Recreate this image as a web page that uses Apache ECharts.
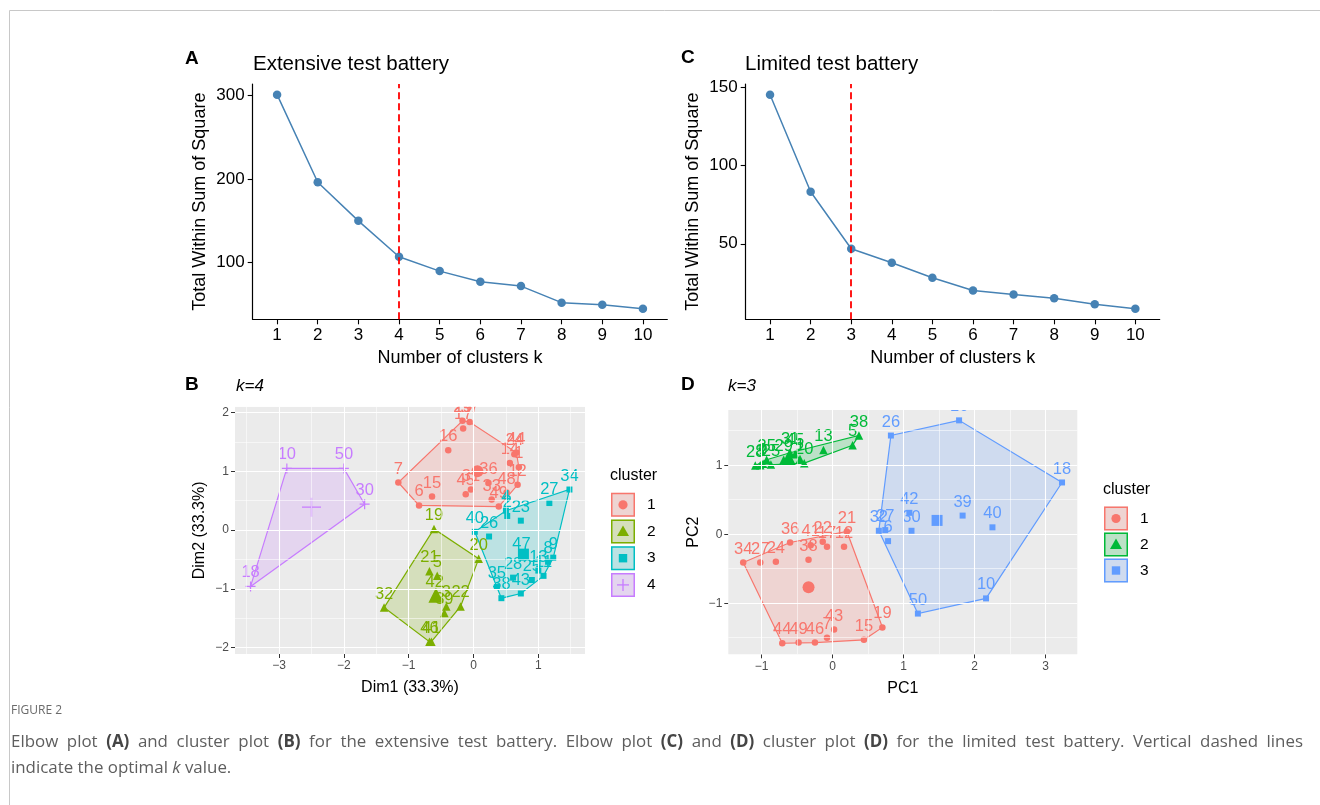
<!DOCTYPE html>
<html><head><meta charset="utf-8">
<script src="https://cdn.jsdelivr.net/npm/echarts@6/dist/echarts.min.js"></script>
<style>html,body{margin:0;padding:0;background:#fff}#c{width:1320px;height:805px}</style>
</head><body><div id="c"></div>
<script>
// ---------- Elbow plots ----------
const kValues = [1,2,3,4,5,6,7,8,9,10];
const wssExtensive = [301.2,195.9,149.6,106.5,89.2,76.5,71.2,51.3,48.9,44.1];
const wssLimited = [145.1,83.2,46.8,37.9,28.3,20.2,17.7,15.2,11.4,8.6];
const optimalKExtensive = 4;
const optimalKLimited = 3;
const elbowYTicksExtensive = [100,200,300];
const elbowYTicksLimited = [50,100,150];
const elbowYRangeExtensive = [31.3, 314.0];
const elbowYRangeLimited = [1.8, 152.0];
const elbowXRange = [0.4, 10.6];

// ---------- Cluster plot B (extensive, k=4) ----------
const clusterNamesB = ['1','2','3','4'];
const b1Labels = ['29','37','17','16','7','6','15','45','31','36','33','49','48','12','1','14','24','44'];
const b1X = [-0.17,-0.06,-0.16,-0.39,-1.16,-0.84,-0.64,-0.12,-0.04,0.23,0.28,0.39,0.51,0.68,0.70,0.56,0.63,0.66];
const b1Y = [1.86,1.84,1.73,1.36,0.81,0.42,0.57,0.61,0.69,0.80,0.52,0.40,0.64,0.77,1.07,1.14,1.29,1.32];
const b2Labels = ['19','20','21','5','32','22','3','39','42','46','41'];
const b2X = [-0.61,0.08,-0.68,-0.56,-1.38,-0.20,-0.42,-0.45,-0.60,-0.68,-0.65];
const b2Y = [0.02,-0.49,-0.70,-0.78,-1.32,-1.30,-1.30,-1.41,-1.12,-1.90,-1.90];
const b3Labels = ['40','26','4','2','23','27','34','47','9','8','13','11','25','28','35','38','43'];
const b3X = [0.02,0.24,0.50,0.52,0.73,1.17,1.48,0.74,1.23,1.15,1.00,1.08,0.90,0.61,0.36,0.43,0.73];
const b3Y = [-0.03,-0.11,0.33,0.24,0.16,0.46,0.69,-0.47,-0.47,-0.54,-0.69,-0.78,-0.85,-0.81,-0.97,-1.16,-1.08];
const b4Labels = ['10','50','30','18'];
const b4X = [-2.88,-2.00,-1.68,-3.44];
const b4Y = [1.05,1.05,0.44,-0.96];
const bCentroidX = [0.06,-0.58,0.77,-2.50];
const bCentroidY = [1.00,-1.11,-0.41,0.39];
const bXRange = [-3.68, 1.72];
const bYRange = [-2.11, 2.10];
const bTicksX = [-3,-2,-1,0,1];
const bTicksY = [-2,-1,0,1,2];
const bMinorX = [-3.5,-2.5,-1.5,-0.5,0.5,1.5];
const bMinorY = [-1.5,-0.5,0.5,1.5];

// ---------- Cluster plot D (limited, k=3) ----------
const clusterNamesD = ['1','2','3'];
const d1Labels = ['34','27','24','36','38','41','22','17','12','21','19','15','43','7','46','49','44'];
const d1X = [-1.26,-1.02,-0.80,-0.60,-0.34,-0.31,-0.14,-0.08,0.16,0.20,0.70,0.44,0.02,-0.08,-0.25,-0.48,-0.71];
const d1Y = [-0.41,-0.41,-0.40,-0.12,-0.37,-0.16,-0.11,-0.18,-0.18,0.04,-1.35,-1.53,-1.38,-1.50,-1.57,-1.57,-1.58];
const d2Labels = ['28','3','9','35','25','29','31','45','1','20','13','5','38'];
const d2X = [-1.09,-1.02,-0.98,-0.93,-0.87,-0.69,-0.60,-0.53,-0.46,-0.40,-0.13,0.28,0.37];
const d2Y = [0.995,1.00,1.02,1.08,1.01,1.08,1.18,1.16,1.09,1.03,1.22,1.29,1.43];
const d3Labels = ['26','16','18','10','50','32','27','6','42','30','39','40'];
const d3X = [0.82,1.78,3.23,2.16,1.20,0.65,0.74,0.78,1.08,1.11,1.83,2.25];
const d3Y = [1.43,1.65,0.75,-0.93,-1.15,0.05,0.06,-0.10,0.31,0.05,0.27,0.10];
const dCentroidX = [-0.34,-0.62,1.47];
const dCentroidY = [-0.77,1.10,0.20];
const dXRange = [-1.47, 3.445];
const dYRange = [-1.74, 1.80];
const dTicksX = [-1,0,1,2,3];
const dTicksY = [-1,0,1];
const dMinorX = [-0.5,0.5,1.5,2.5];
const dMinorY = [-1.5,-0.5,0.5,1.5];

// ---------- caption text ----------
const captionHeading = 'FIGURE 2';
const captionLine1 = 'Elbow plot (A) and cluster plot (B) for the extensive test battery. Elbow plot (C) and (D) cluster plot (D) for the limited test battery. Vertical dashed lines';
const captionLine2 = ['indicate the optimal ', 'k', ' value.'];

// ---------- styling ----------
const FONT = 'Liberation Sans';
const paletteB = ['#F8766D','#7CAE00','#00BFC4','#C77CFF'];
const paletteD = ['#F8766D','#00BA38','#619CFF'];
const shapesB = ['circle','triangle','rect','plus'];
const shapesD = ['circle','triangle','rect'];
const PLUS = 'path://M-1,-0.12L-0.12,-0.12L-0.12,-1L0.12,-1L0.12,-0.12L1,-0.12L1,0.12L0.12,0.12L0.12,1L-0.12,1L-0.12,0.12L-1,0.12Z';
const PLUS_BIG = 'path://M-1,-0.07L-0.07,-0.07L-0.07,-1L0.07,-1L0.07,-0.07L1,-0.07L1,0.07L0.07,0.07L0.07,1L-0.07,1L-0.07,0.07L-1,0.07Z';
const pointSize = {circle:6.5, triangle:8.5, rect:6, plus:10};
const centSize = {circle:12, triangle:15, rect:11, plus:19};

const grids = [
  {left:252.7, top:84, width:414.6, height:235.3},   // A
  {left:745.7, top:84, width:414.0, height:235.3},   // C
  {left:235, top:406.7, width:350, height:247.3},    // B
  {left:728.3, top:410, width:349, height:244.3}     // D
];

function rgba(hex, a){const n=parseInt(hex.slice(1),16);return 'rgba('+(n>>16)+','+((n>>8)&255)+','+(n&255)+','+a+')';}
const minus = v => String(v).replace('-', '\u2212');

function convexHull(pts){
  const p = pts.slice().sort((a,b)=>a[0]-b[0]||a[1]-b[1]);
  const cross=(o,a,b)=>(a[0]-o[0])*(b[1]-o[1])-(a[1]-o[1])*(b[0]-o[0]);
  const lower=[];for(const q of p){while(lower.length>=2&&cross(lower[lower.length-2],lower[lower.length-1],q)<=0)lower.pop();lower.push(q);}
  const upper=[];for(let i=p.length-1;i>=0;i--){const q=p[i];while(upper.length>=2&&cross(upper[upper.length-2],upper[upper.length-1],q)<=0)upper.pop();upper.push(q);}
  upper.pop();lower.pop();return lower.concat(upper);
}

// ---------- axes ----------
const xAxes = [], yAxes = [];
function elbowAxes(g, yRange, yTicks){
  xAxes.push({type:'value', gridIndex:g, min:elbowXRange[0], max:elbowXRange[1],
    axisLine:{show:true, onZero:false, lineStyle:{color:'#000', width:1.2}},
    axisTick:{show:true, customValues:kValues, length:5, lineStyle:{color:'#000', width:1.1}},
    axisLabel:{customValues:kValues, fontSize:17, color:'#000', fontFamily:FONT, margin:8},
    splitLine:{show:false},
    name:'Number of clusters k', nameLocation:'middle', nameGap:30,
    nameTextStyle:{fontSize:18, color:'#000', fontFamily:FONT}});
  yAxes.push({type:'value', gridIndex:g, min:yRange[0], max:yRange[1],
    axisLine:{show:true, onZero:false, lineStyle:{color:'#000', width:1.2}},
    axisTick:{show:true, customValues:yTicks, length:5, lineStyle:{color:'#000', width:1.1}},
    axisLabel:{customValues:yTicks, fontSize:17, color:'#000', fontFamily:FONT, margin:8},
    splitLine:{show:false},
    name:'Total Within Sum of Square', nameLocation:'middle', nameGap:44, nameRotate:90,
    nameTextStyle:{fontSize:18, color:'#000', fontFamily:FONT}});
}
function clusterAxes(g, xr, yr, xt, yt, xName, yName){
  xAxes.push({type:'value', gridIndex:g, min:xr[0], max:xr[1],
    axisLine:{show:false, onZero:false},
    axisTick:{show:true, customValues:xt, length:4, lineStyle:{color:'#333', width:1}},
    axisLabel:{customValues:xt, fontSize:12, color:'#4D4D4D', fontFamily:FONT, margin:6, formatter:minus},
    splitLine:{show:false},
    name:xName, nameLocation:'middle', nameGap:26, nameTextStyle:{fontSize:16, color:'#000', fontFamily:FONT}});
  yAxes.push({type:'value', gridIndex:g, min:yr[0], max:yr[1],
    axisLine:{show:false, onZero:false},
    axisTick:{show:true, customValues:yt, length:4, lineStyle:{color:'#333', width:1}},
    axisLabel:{customValues:yt, fontSize:12, color:'#4D4D4D', fontFamily:FONT, margin:6, formatter:minus},
    splitLine:{show:false},
    name:yName, nameLocation:'middle', nameGap:27, nameRotate:90, nameTextStyle:{fontSize:16, color:'#000', fontFamily:FONT}});
}
elbowAxes(0, elbowYRangeExtensive, elbowYTicksExtensive);
elbowAxes(1, elbowYRangeLimited, elbowYTicksLimited);
clusterAxes(2, bXRange, bYRange, bTicksX, bTicksY, 'Dim1 (33.3%)', 'Dim2 (33.3%)');
clusterAxes(3, dXRange, dYRange, dTicksX, dTicksY, 'PC1', 'PC2');

// ---------- series ----------
const series = [];
function elbowSeries(g, wss, kOpt){
  series.push({type:'line', xAxisIndex:g, yAxisIndex:g, z:3, animation:false, silent:true,
    data: kValues.map((k,i)=>[k, wss[i]]),
    symbol:'circle', symbolSize:8.5, showSymbol:true,
    lineStyle:{color:'#4682B4', width:1.5}, itemStyle:{color:'#4682B4'},
    markLine:{silent:true, animation:false, symbol:['none','none'], label:{show:false}, emphasis:{disabled:true},
      lineStyle:{color:'#FF0000', type:[7,4], width:1.8}, data:[{xAxis:kOpt}]}});
}
elbowSeries(0, wssExtensive, optimalKExtensive);
elbowSeries(1, wssLimited, optimalKLimited);

function gridLineSeries(g, xMaj, xMin, yMaj, yMin, xr, yr){
  const d = [];
  xMin.forEach(v=>d.push({xAxis:v, lineStyle:{width:0.55}}));
  yMin.forEach(v=>d.push({yAxis:v, lineStyle:{width:0.55}}));
  xMaj.forEach(v=>d.push({xAxis:v, lineStyle:{width:1.1}}));
  yMaj.forEach(v=>d.push({yAxis:v, lineStyle:{width:1.1}}));
  series.push({type:'line', xAxisIndex:g, yAxisIndex:g, z:1, silent:true, animation:false,
    data:[[xr[0], yr[0]]], showSymbol:false, lineStyle:{width:0, opacity:0},
    markLine:{silent:true, animation:false, symbol:['none','none'], label:{show:false}, emphasis:{disabled:true},
      lineStyle:{color:'#FFFFFF', type:'solid', width:1.1}, data:d}});
}
gridLineSeries(2, bTicksX, bMinorX, bTicksY, bMinorY, bXRange, bYRange);
gridLineSeries(3, dTicksX, dMinorX, dTicksY, dMinorY, dXRange, dYRange);

function symbolOf(shape, big){ return shape==='plus' ? (big?PLUS_BIG:PLUS) : shape; }

function clusterSeries(g, labels, xs, ys, cx, cy, color, shape){
  const pts = xs.map((x,i)=>[x, ys[i]]);
  const hull = convexHull(pts);
  series.push({type:'custom', xAxisIndex:g, yAxisIndex:g, z:2, silent:true, animation:false,
    data:[hull[0]],
    renderItem:(params, api)=>({type:'polygon', shape:{points: hull.map(p=>api.coord(p))},
      style:{fill: rgba(color,0.2), stroke: color, lineWidth:1.2}})});
  series.push({type:'scatter', xAxisIndex:g, yAxisIndex:g, z:3, silent:true, animation:false,
    data: pts.map((p,i)=>({value:p, name:labels[i]})),
    symbol: symbolOf(shape,false), symbolSize: pointSize[shape],
    itemStyle:{color:color, opacity:1},
    label:{show:true, formatter:'{b}', position:'inside', offset:[0,-13.5], fontSize:16.5, fontFamily:FONT, color:color}});
  series.push({type:'scatter', xAxisIndex:g, yAxisIndex:g, z:4, silent:true, animation:false,
    data:[[cx, cy]], symbol: symbolOf(shape,true), symbolSize: centSize[shape], itemStyle:{color:color, opacity:1}});
}
clusterSeries(2, b1Labels, b1X, b1Y, bCentroidX[0], bCentroidY[0], paletteB[0], shapesB[0]);
clusterSeries(2, b2Labels, b2X, b2Y, bCentroidX[1], bCentroidY[1], paletteB[1], shapesB[1]);
clusterSeries(2, b3Labels, b3X, b3Y, bCentroidX[2], bCentroidY[2], paletteB[2], shapesB[2]);
clusterSeries(2, b4Labels, b4X, b4Y, bCentroidX[3], bCentroidY[3], paletteB[3], shapesB[3]);
clusterSeries(3, d1Labels, d1X, d1Y, dCentroidX[0], dCentroidY[0], paletteD[0], shapesD[0]);
clusterSeries(3, d2Labels, d2X, d2Y, dCentroidX[1], dCentroidY[1], paletteD[1], shapesD[1]);
clusterSeries(3, d3Labels, d3X, d3Y, dCentroidX[2], dCentroidY[2], paletteD[2], shapesD[2]);

// ---------- graphic: titles, legends, caption, frame ----------
const graphic = [];
function txt(x, y, text, size, extra){
  graphic.push({type:'text', x:x, y:y, z:100, silent:true,
    style:Object.assign({text:text, fontSize:size, fontFamily:FONT, fill:'#000', verticalAlign:'middle', textAlign:'left'}, extra||{})});
}
// frame
graphic.push({type:'polyline', z:100, silent:true, shape:{points:[[9.5,805],[9.5,10.5],[1320,10.5]]}, style:{stroke:'#c8c8c8', lineWidth:1, fill:null}});
// mask labels overflowing the top of the cluster panels (ggplot clips to panel)
[grids[2], grids[3]].forEach(gr=>graphic.push({type:'rect', z:90, silent:true,
  shape:{x:gr.left, y:gr.top-15, width:gr.width, height:15}, style:{fill:'#fff'}}));
// panel titles
txt(185, 58.5, 'A', 19, {fontWeight:'bold'});
txt(253, 64, 'Extensive test battery', 20.5);
txt(681, 57.5, 'C', 19, {fontWeight:'bold'});
txt(745, 64, 'Limited test battery', 20.5);
txt(185, 385, 'B', 19, {fontWeight:'bold'});
txt(236, 386, 'k=4', 17, {fontStyle:'italic'});
txt(681, 385, 'D', 19, {fontWeight:'bold'});
txt(728, 386, 'k=3', 17, {fontStyle:'italic'});

function legend(x0, titleY, keyTop, step, names, palette, shapes){
  txt(x0, titleY, 'cluster', 16);
  names.forEach((nm, i)=>{
    const col = palette[i], top = keyTop + i*step, cx = x0+13, cy = top+12.5;
    graphic.push({type:'rect', z:100, silent:true, shape:{x:x0+1, y:top+0.5, width:24, height:24}, style:{fill:'#EBEBEB', stroke:null}});
    graphic.push({type:'rect', z:100, silent:true, shape:{x:x0+1.75, y:top+1.25, width:22.5, height:22.5}, style:{fill:rgba(col,0.2), stroke:col, lineWidth:1.5}});
    const s = shapes[i];
    if (s==='circle') graphic.push({type:'circle', z:101, silent:true, shape:{cx:cx, cy:cy, r:4.6}, style:{fill:col}});
    else if (s==='triangle') graphic.push({type:'polygon', z:101, silent:true, shape:{points:[[cx,cy-6],[cx+6,cy+4.5],[cx-6,cy+4.5]]}, style:{fill:col}});
    else if (s==='rect') graphic.push({type:'rect', z:101, silent:true, shape:{x:cx-4.2, y:cy-4.2, width:8.4, height:8.4}, style:{fill:col}});
    else {
      graphic.push({type:'line', z:101, silent:true, shape:{x1:cx-6, y1:cy, x2:cx+6, y2:cy}, style:{stroke:col, lineWidth:1.3}});
      graphic.push({type:'line', z:101, silent:true, shape:{x1:cx, y1:cy-6, x2:cx, y2:cy+6}, style:{stroke:col, lineWidth:1.3}});
    }
    txt(x0+37, cy, nm, 15.5);
  });
}
legend(610, 476, 492.3, 26.7, clusterNamesB, paletteB, shapesB);
legend(1103, 490, 506, 26, clusterNamesD, paletteD, shapesD);

// caption: size chosen so the short last line has the reference width,
// first line justified to the text column as on the source page
const CAPF = 'Open Sans';
const CAP_X0 = 11, CAP_X1 = 1303, LINE2_W = 220;
const capFill = '#5e5e5e', capBold = '#454545';
const mctx = document.createElement('canvas').getContext('2d');
function measure(t, size, bold, italic){ mctx.font = (italic?'italic ':'') + (bold?'bold ':'') + size + 'px "' + CAPF + '"'; return mctx.measureText(t).width; }
const l2w16 = measure(captionLine2[0],16) + measure(captionLine2[1],16,false,true) + measure(captionLine2[2],16);
const CAPS = Math.round(16 * LINE2_W / l2w16 * 10) / 10;
graphic.push({type:'text', x:CAP_X0, y:711, z:100, silent:true, style:{text:captionHeading, fontSize:12, fontFamily:CAPF, fill:'#6a6a6a', verticalAlign:'middle'}});
const words = captionLine1.split(' ');
const isBold = w => /^\([A-D]\)$/.test(w);
const widths = words.map(w=>measure(w, CAPS, isBold(w)));
const totalW = widths.reduce((a,b)=>a+b,0);
const gap = (CAP_X1 - CAP_X0 - totalW) / (words.length - 1);
let cursor = CAP_X0;
words.forEach((w,i)=>{
  graphic.push({type:'text', x:cursor, y:742, z:100, silent:true, style:{text:w, fontSize:CAPS, fontFamily:CAPF,
    fontWeight: isBold(w)?'bold':'normal', fill: isBold(w)?capBold:capFill, verticalAlign:'middle'}});
  cursor += widths[i] + gap;
});
graphic.push({type:'text', x:CAP_X0, y:768, z:100, silent:true, style:{
  text: captionLine2[0] + '{i|' + captionLine2[1] + '}' + captionLine2[2], fontSize:CAPS, fontFamily:CAPF, fill:capFill, verticalAlign:'middle',
  rich:{i:{fontStyle:'italic', fontSize:CAPS, fontFamily:CAPF, fill:capFill}}}});

const chart = echarts.init(document.getElementById('c'), null, {renderer:'canvas'});
chart.setOption({
  animation:false,
  backgroundColor:'#fff',
  textStyle:{fontFamily:FONT},
  grid: grids.map((g,i)=>Object.assign({containLabel:false, outerBoundsMode:'none',
    show: i>=2, backgroundColor:'#EBEBEB', borderWidth:0}, g)),
  xAxis:xAxes, yAxis:yAxes, series:series, graphic:graphic
});
</script></body></html>
